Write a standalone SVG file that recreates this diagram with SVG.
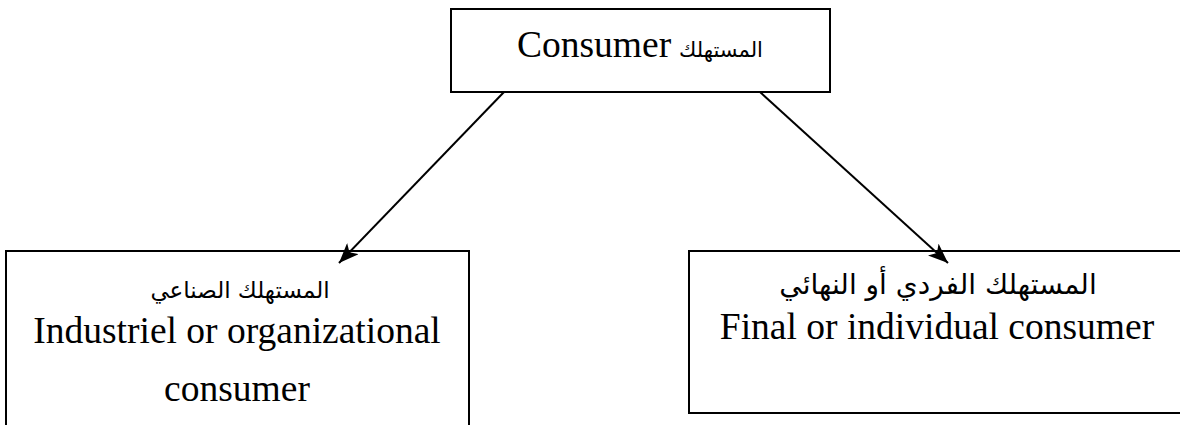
<svg xmlns="http://www.w3.org/2000/svg" width="1180" height="425" viewBox="0 0 1180 425">
<style>
.box{fill:#fff;stroke:#000;stroke-width:2}
.en{font-family:"Liberation Serif","Times New Roman",serif;font-size:37.5px;fill:#000}
.ar{font-family:"DejaVu Sans","Noto Sans",sans-serif;fill:#000}
.conn{stroke:#000;stroke-width:2;fill:none}
</style>
<defs>
<marker id="arr" markerUnits="userSpaceOnUse" markerWidth="22" markerHeight="16" refX="20" refY="8" orient="auto">
<path d="M0,0 L20,8 L0,16 L5,8 Z" fill="#000"/>
</marker>
</defs>
<g id="consumer">
<rect class="box" x="451" y="9" width="379" height="83"/>
<text class="en" x="517" y="57">Consumer</text>
<text class="ar" x="721" y="57" font-size="21" text-anchor="middle" direction="rtl">المستهلك</text>
</g>
<g id="industrial">
<rect class="box" x="6" y="251" width="463" height="190"/>
<text class="ar" x="240" y="298" font-size="23" text-anchor="middle" direction="rtl">المستهلك الصناعي</text>
<text class="en" x="237" y="343" text-anchor="middle">Industriel or organizational</text>
<text class="en" x="237" y="401" text-anchor="middle">consumer</text>
</g>
<g id="final">
<rect class="box" x="689" y="251" width="496" height="162"/>
<text class="ar" x="938" y="294" font-size="28" text-anchor="middle" direction="rtl">المستهلك الفردي أو النهائي</text>
<text class="en" x="937" y="339" text-anchor="middle">Final or individual consumer</text>
</g>
<g id="connectors">
<line class="conn" x1="504" y1="92" x2="339" y2="263" marker-end="url(#arr)"/>
<line class="conn" x1="760" y1="92" x2="948" y2="263" marker-end="url(#arr)"/>
</g>
</svg>
